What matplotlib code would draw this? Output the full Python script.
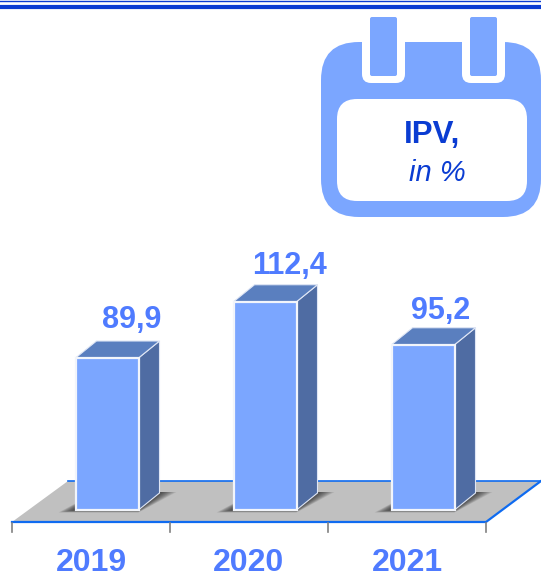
import matplotlib
matplotlib.use('Agg')
import matplotlib.pyplot as plt
from matplotlib.patches import FancyBboxPatch, Polygon

plt.rcParams['font.family'] = ['Liberation Sans', 'DejaVu Sans']

years = ['2019', '2020', '2021']
values = [89.9, 112.4, 95.2]
value_labels = ['89,9', '112,4', '95,2']

W, H = 541, 574
FRONT = '#7ba6ff'
SIDE = '#4f6ca3'
TOP = '#5a7fbf'
LABEL = '#4f7bff'
NAVY = '#0a3cd2'
EDGE = '#0f6bf0'

fig = plt.figure(figsize=(W / 100, H / 100), dpi=100)

# pixel layer for floor and calendar
bg = fig.add_axes((0, 0, 1, 1))
bg.set_xlim(0, W)
bg.set_ylim(H, 0)
bg.axis('off')

# chart layer: x in categories, y in values
PX_X = 158.0
PX_Y = 2.5
BASE = 29.1
ax = fig.add_axes((0, 0, 1, 1))
ax.patch.set_alpha(0)
ax.set_xlim(-12 / PX_X, (W - 12) / PX_X)
ax.set_ylim(BASE - (H - 510) / PX_Y, BASE + 510 / PX_Y)
ax.axis('off')

# top rule
bg.plot([0, W], [0.7, 0.7], color=NAVY, lw=1.0)
bg.plot([0, W], [7, 7], color=NAVY, lw=3.0)

# floor
bg.add_patch(Polygon([(12, 522), (486, 522), (541, 481), (68, 481)], fc='#c0c0c0', ec='none'))
bg.plot([12, 486, 541], [522, 522, 481], color=EDGE, lw=1.6)
bg.plot([68, 541], [481, 481], color=EDGE, lw=1.2)
for px in [12, 170, 328, 486]:
    bg.plot([px, px], [523, 532], color='#808080', lw=1.2)

# bars
width = 63 / PX_X
dx = 21 / PX_X
dy = 17 / PX_Y
# nudges for the value labels, the chart sets them by hand
label_dx = [25, 24, 18]
label_dy = [12, 11, 10.3]
for i, v in enumerate(values):
    c = i + 0.5 + 16 / PX_X
    l, r = c - width / 2, c + width / 2
    # soft shadow on the floor
    for k in range(10):
        g = 1.7 * (10 - k) / PX_X
        low = BASE - (10 - k) * 0.1
        ax.add_patch(Polygon([
            (l - g, low), (r, low), (r + dx + g, BASE + dy + 0.4), (l + dx, BASE + dy + 0.4)],
            fc='black', ec='none', alpha=0.085, zorder=1))
    ax.add_patch(Polygon([(r, BASE), (r + dx, BASE + dy), (r + dx, v + dy), (r, v)],
                         fc=SIDE, ec='#dfe6f5', lw=0.8, zorder=2))
    ax.add_patch(Polygon([(l, v), (r, v), (r + dx, v + dy), (l + dx, v + dy)],
                         fc=TOP, ec='#dfe6f5', lw=0.8, zorder=2))
    ax.bar(c, v - BASE, width=width, bottom=BASE, color=FRONT, edgecolor='#f2f5fb', linewidth=1.6, zorder=3)
    ax.text(c + label_dx[i] / PX_X, v + label_dy[i], value_labels[i], color=LABEL, fontsize=22, fontweight='bold',
            ha='center', va='baseline')
    ax.text(i + 0.5, BASE - 61 / PX_Y, years[i], color=LABEL, fontsize=23, fontweight='bold',
            ha='center', va='baseline')


def rbox(x0, y0, x1, y1, r, color):
    bg.add_patch(FancyBboxPatch((x0 + r, y0 + r), x1 - x0 - 2 * r, y1 - y0 - 2 * r,
                                boxstyle='round,pad=%d,rounding_size=%d' % (r, r), fc=color, ec='none'))


# calendar icon
rbox(321, 42, 541, 217, 38, FRONT)
rbox(337, 99, 527, 201, 20, 'white')
for x0 in [362, 462]:
    bg.add_patch(Polygon([(x0, 30), (x0 + 43, 30), (x0 + 43, 60), (x0, 60)], fc='white', ec='none'))
    rbox(x0, 45, x0 + 43, 83, 9, 'white')
    rbox(x0 + 8, 17, x0 + 35, 76, 2, FRONT)
bg.text(432, 143, 'IPV,', color=NAVY, fontsize=22.5, fontweight='bold', ha='center', va='baseline')
bg.text(437, 181, 'in %', color=NAVY, fontsize=21, fontstyle='italic', ha='center', va='baseline')

fig.savefig('out.png', dpi=100)
